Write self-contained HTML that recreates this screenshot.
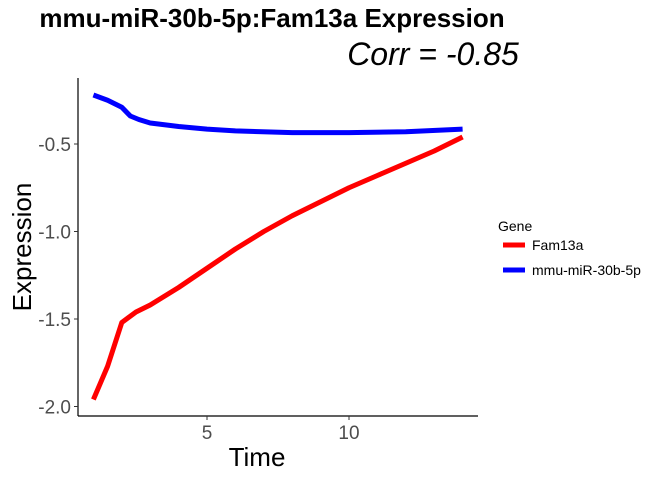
<!DOCTYPE html>
<html><head><meta charset="utf-8"><style>
body{margin:0;background:#fff;font-family:"Liberation Sans",sans-serif;}
svg text{font-family:"Liberation Sans",sans-serif;}
</style></head><body>
<svg width="670" height="479" xmlns="http://www.w3.org/2000/svg">
<text x="272" y="27" font-size="26" font-weight="bold" text-anchor="middle" fill="#000">mmu-miR-30b-5p:Fam13a Expression</text>
<text x="433" y="65" font-size="32" font-style="italic" text-anchor="middle" fill="#000">Corr = -0.85</text>
<g id="plot"></g>
<text x="257" y="466" font-size="26" text-anchor="middle">Time</text>
<text transform="translate(31,247) rotate(-90)" font-size="26" text-anchor="middle">Expression</text>
<g>
<text x="498" y="231" font-size="14">Gene</text>
<line x1="503" y1="245" x2="525" y2="245" stroke="#ff0000" stroke-width="5"/>
<text x="532" y="250" font-size="14">Fam13a</text>
<line x1="503" y1="270" x2="525" y2="270" stroke="#0000ff" stroke-width="5"/>
<text x="532" y="275" font-size="14">mmu-miR-30b-5p</text>
</g>
</svg>
<script>
const times=[1,1.5,2,2.5,3,4,5,6,7,8,9,10,11,12,13,14];
const fam13a=[-1.96,-1.77,-1.52,-1.46,-1.42,-1.32,-1.21,-1.10,-1.00,-0.91,-0.83,-0.75,-0.68,-0.61,-0.54,-0.46];
const mirTimes=[1,1.5,2,2.3,2.6,3,4,5,6,8,10,12,14];
const mir=[-0.22,-0.25,-0.29,-0.34,-0.36,-0.38,-0.40,-0.415,-0.425,-0.435,-0.435,-0.43,-0.415];
const xTicks=[5,10];
const yTicks=[-0.5,-1.0,-1.5,-2.0];
const yTickLabels=["-0.5","-1.0","-1.5","-2.0"];
const NS="http://www.w3.org/2000/svg";
const xs=v=>207+(v-5)*28.4;
const ys=v=>144+(-0.5-v)*175;
const g=document.getElementById('plot');
function mk(t,a){const e=document.createElementNS(NS,t);for(const k in a)e.setAttribute(k,a[k]);g.appendChild(e);return e;}
let ax=mk('line',{x1:78,y1:78,x2:78,y2:416,stroke:'#000','stroke-width':1.2});


ax=mk('line',{x1:78,y1:416,x2:478,y2:416,stroke:'#000','stroke-width':1.2});


xTicks.forEach(t=>{
 const l=mk('line',{x1:xs(t),y1:416,x2:xs(t),y2:420,stroke:'#333'});
 
 
 const tx=mk('text',{x:xs(t),y:439,'font-size':19,'text-anchor':'middle',fill:'#4d4d4d'});
 tx.textContent=t;
 
 
});
yTicks.forEach((t,i)=>{
 const l=mk('line',{x1:74,y1:ys(t),x2:78,y2:ys(t),stroke:'#333'});
 
 
 const tx=mk('text',{x:71,y:ys(t)+7,'font-size':19,'text-anchor':'end',fill:'#4d4d4d'});
 tx.textContent=yTickLabels[i];
 
 
});
function line(xv,yv,c,name){
 const p=mk('polyline',{points:xv.map((x,i)=>xs(x)+','+ys(yv[i])).join(' '),fill:'none',stroke:c,'stroke-width':5,'stroke-linejoin':'round'});
 
 
}
line(times,fam13a,'#ff0000','fam13a-line');
line(mirTimes,mir,'#0000ff','mir-line');
</script>
</body></html>
